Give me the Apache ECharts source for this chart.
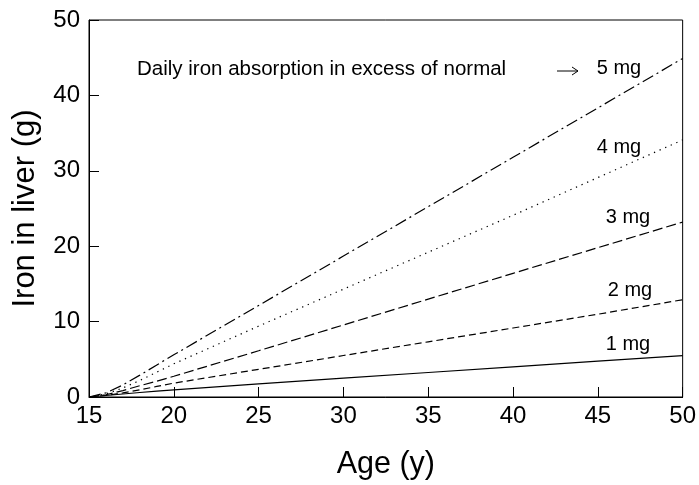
<!DOCTYPE html>
<html>
<head>
<meta charset="utf-8">
<script src="https://cdn.jsdelivr.net/npm/echarts@6/dist/echarts.min.js"></script>
<style>
html,body{margin:0;padding:0;background:#fff;}
#c{width:699px;height:485px;}
</style>
</head>
<body>
<div id="c"></div>
<script>
var ages = [15, 16, 17, 18, 19, 20, 25, 30, 35, 40, 45, 50];
var mg1 = [0, 0.2, 0.4, 0.6, 0.78, 0.95, 1.75, 2.5, 3.25, 4.0, 4.75, 5.5];
var mg2 = [0, 0.2, 0.55, 0.95, 1.4, 1.84, 3.67, 5.5, 7.32, 9.15, 10.98, 12.9];
var mg3 = [0, 0.3, 0.85, 1.5, 2.1, 2.75, 6.13, 9.55, 12.98, 16.4, 19.8, 23.2];
var mg4 = [0, 0.4, 1.2, 2.2, 3.3, 4.4, 9.4, 14.3, 19.2, 24.1, 29.1, 34.1];
var mg5 = [0, 0.55, 1.6, 2.9, 4.25, 5.6, 12.14, 18.69, 25.24, 31.79, 38.34, 44.9];
var xTicks = [15, 20, 25, 30, 35, 40, 45, 50];
var yTicks = [0, 10, 20, 30, 40, 50];
var labels = ['1 mg', '2 mg', '3 mg', '4 mg', '5 mg'];
var note = 'Daily iron absorption in excess of normal';

function pairs(v){ return ages.map(function(a,i){ return [a, v[i]]; }); }
var FONT = 'Liberation Sans, Arial, sans-serif';
var dashes = ['solid', [7,4], [10,4], [1.3,4.8], [12,4,2,4]];
var allSeries = [mg1, mg2, mg3, mg4, mg5];
var labelPos = [[628,344],[630,290],[628,217],[619,147],[619,68]];

var graphics = [
  {type:'text', left:137, top:59, style:{text:note, font:'20.5px Liberation Sans, Arial, sans-serif', fill:'#000'}},
  {type:'line', shape:{x1:557, y1:71, x2:578, y2:71}, style:{stroke:'#000', lineWidth:1}},
  {type:'polyline', shape:{points:[[572,67],[578,71],[572,75]]}, style:{stroke:'#000', lineWidth:1, fill:null}}
];
labels.forEach(function(t, i){
  graphics.push({type:'text', x:labelPos[i][0], y:labelPos[i][1],
    style:{text:t, font:'20px Liberation Sans, Arial, sans-serif', fill:'#000', align:'center', verticalAlign:'middle'}});
});

var chart = echarts.init(document.getElementById('c'));
chart.setOption({
  animation:false,
  backgroundColor:'#fff',
  grid:{left:89, right:15, top:20, bottom:88, show:true, borderColor:'#000', borderWidth:1, backgroundColor:'transparent'},
  xAxis:{
    type:'value', min:15, max:50, interval:5,
    name:'Age (y)', nameLocation:'middle', nameGap:52,
    nameTextStyle:{fontFamily:FONT, fontSize:30.5, color:'#000'},
    axisLine:{show:true, lineStyle:{color:'#000', width:1}},
    axisTick:{show:true, inside:true, length:10, lineStyle:{color:'#000'}},
    axisLabel:{fontFamily:FONT, fontSize:24, color:'#000', margin:7},
    splitLine:{show:false}
  },
  yAxis:{
    type:'value', min:0, max:50, interval:10,
    name:'Iron in liver (g)', nameLocation:'middle', nameGap:48,
    nameTextStyle:{fontFamily:FONT, fontSize:31, color:'#000'},
    axisLine:{show:true, lineStyle:{color:'#000', width:1}},
    axisTick:{show:true, inside:true, length:10, lineStyle:{color:'#000'}},
    axisLabel:{fontFamily:FONT, fontSize:24, color:'#000', margin:9},
    splitLine:{show:false}
  },
  graphic:graphics,
  series: allSeries.map(function(v, i){
    return {
      type:'line', name:labels[i], data:pairs(v), showSymbol:false, symbol:'none',
      smooth:false,
      lineStyle:{color:'#000', width:1.2, type:dashes[i]}
    };
  })
});
</script>
</body>
</html>
